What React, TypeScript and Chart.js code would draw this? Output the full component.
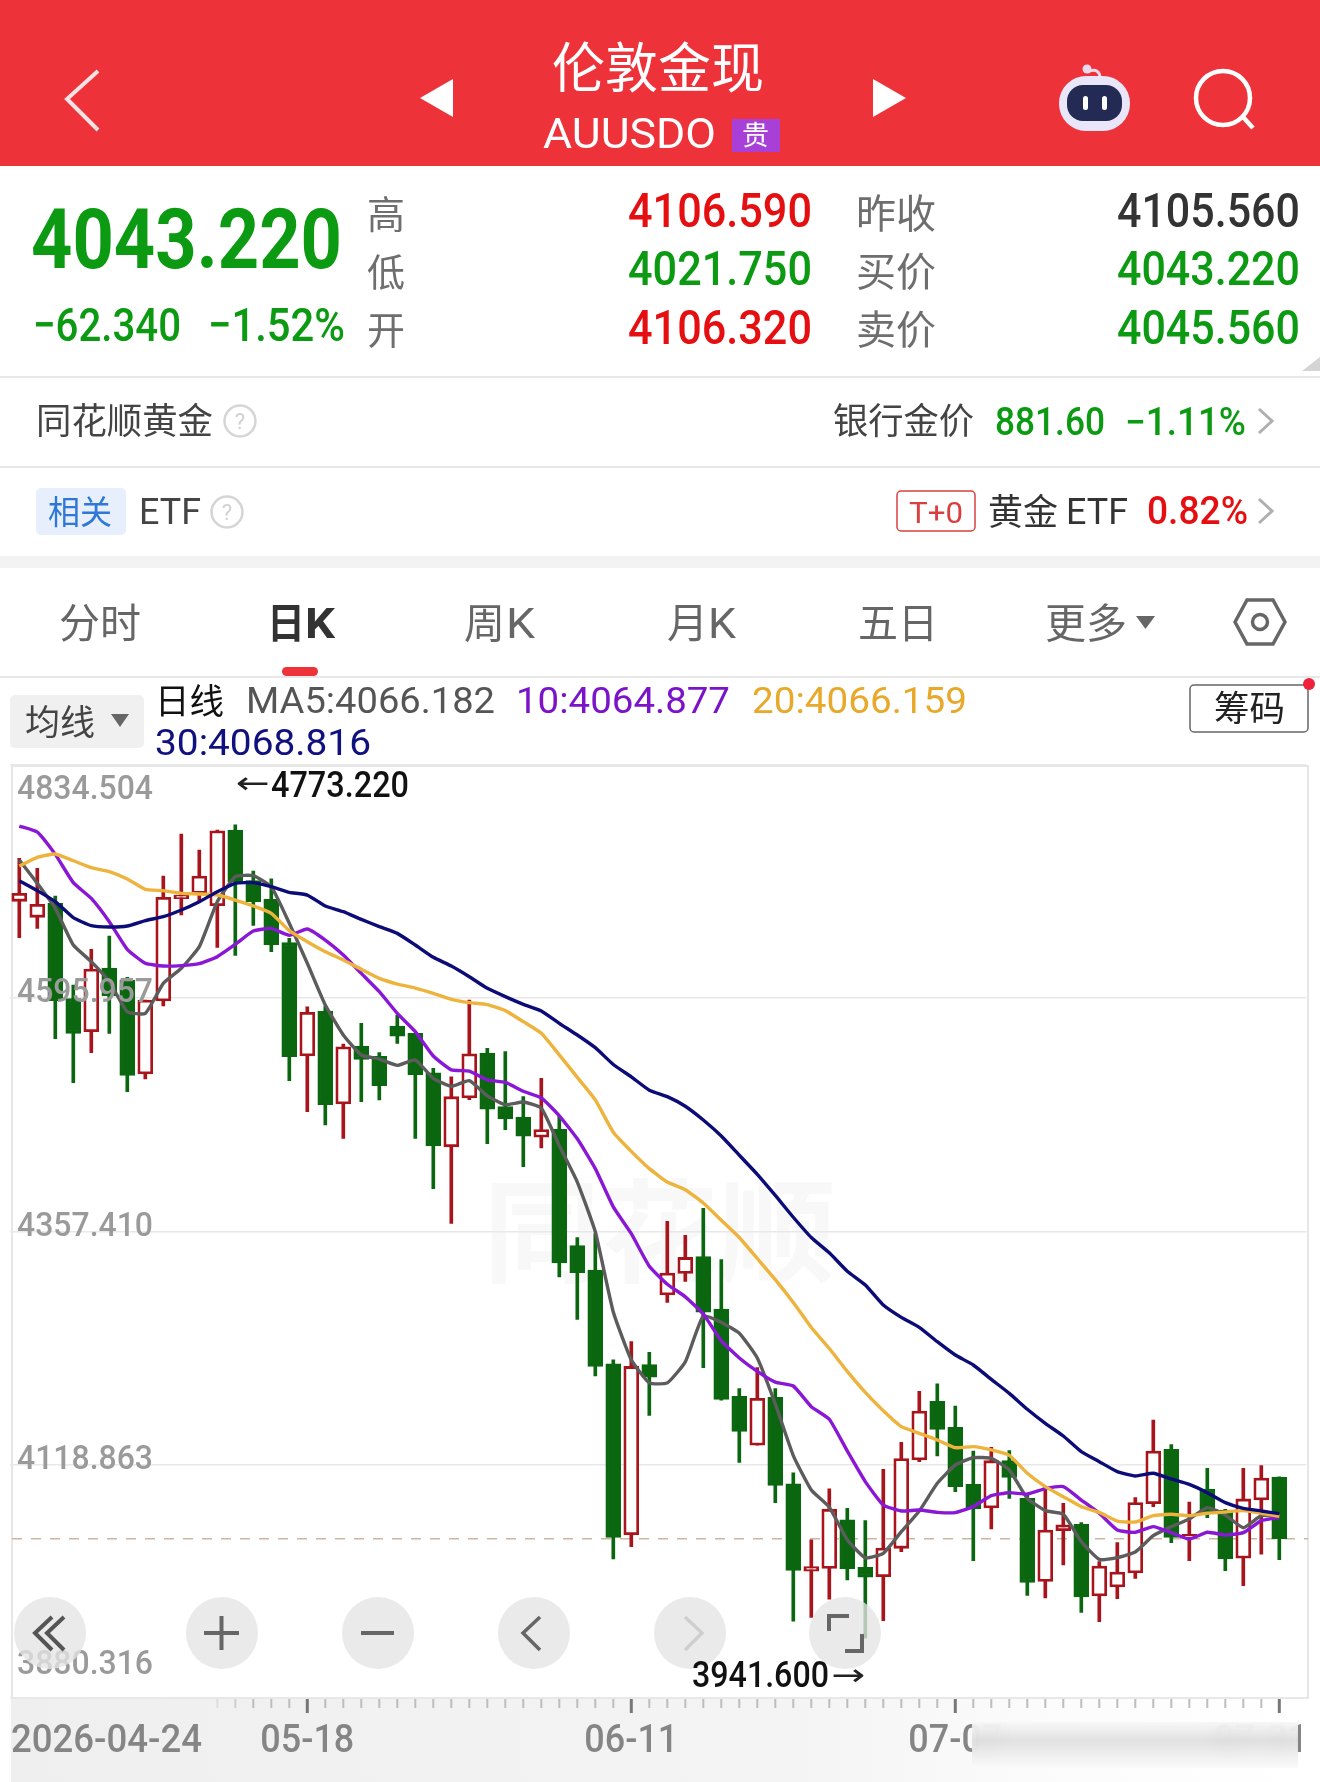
import { useEffect, useRef } from "react";
import { Chart, registerables } from "chart.js";

Chart.register(...registerables);

// trading days, weekdays only, 2026-04-24 .. 2026-07-31
const dates = [
  "2026-04-24", "04-27", "04-28", "04-29", "04-30", "05-01", "05-04", "05-05", "05-06", "05-07", "05-08",
  "05-11", "05-12", "05-13", "05-14", "05-15", "05-18", "05-19", "05-20", "05-21", "05-22",
  "05-25", "05-26", "05-27", "05-28", "05-29", "06-01", "06-02", "06-03", "06-04", "06-05",
  "06-08", "06-09", "06-10", "06-11", "06-12", "06-15", "06-16", "06-17", "06-18", "06-19",
  "06-22", "06-23", "06-24", "06-25", "06-26", "06-29", "06-30", "07-01", "07-02", "07-03",
  "07-06", "07-07", "07-08", "07-09", "07-10", "07-13", "07-14", "07-15", "07-16", "07-17",
  "07-20", "07-21", "07-22", "07-23", "07-24", "07-27", "07-28", "07-29", "07-30", "07-31",
];
const labeledDates = ["2026-04-24", "05-18", "06-11", "07-07", "07-31"];

const opens = [
  4695.07, 4678.7, 4693.0, 4595.5, 4561.8, 4626.9, 4614.6, 4518.5, 4593.1, 4697.8, 4703.2, 4690.6,
  4768.0, 4716.2, 4697.1, 4652.8, 4536.9, 4582.9, 4487.8, 4547.1, 4536.6, 4567.6, 4560.1, 4519.8,
  4444.0, 4494.1, 4539.9, 4485.1, 4474.5, 4453.8, 4462.0, 4343.1, 4318.0, 4222.1, 4047.2, 4221.3,
  4292.6, 4314.5, 4331.7, 4278.1, 4188.9, 4138.8, 4187.7, 4099.3, 4010.0, 4012.8, 4062.5, 4014.0,
  4004.4, 4033.4, 4123.7, 4183.7, 4157.1, 4098.8, 4074.6, 4123.0, 4084.5, 3999.6, 4051.5, 4057.9,
  3984.6, 3993.9, 4008.2, 4079.1, 4134.6, 4043.6, 4094.1, 4072.6, 4023.2, 4082.8, 4106.32,
];
const closes = [
  4703.25, 4692.0, 4593.5, 4560.1, 4625.9, 4598.3, 4517.1, 4594.2, 4699.2, 4701.5, 4721.0, 4767.3,
  4715.2, 4694.7, 4650.4, 4536.2, 4581.5, 4487.1, 4546.4, 4533.5, 4506.6, 4557.3, 4517.8, 4444.9,
  4495.3, 4539.1, 4482.4, 4472.6, 4455.0, 4461.6, 4325.4, 4315.3, 4219.4, 4044.5, 4219.4, 4208.4,
  4314.9, 4330.9, 4274.9, 4185.7, 4152.9, 4186.9, 4097.7, 4010.8, 4014.7, 4073.4, 4012.4, 4003.8,
  4033.7, 4125.1, 4173.8, 4155.1, 4096.5, 4074.0, 4123.0, 4106.0, 3998.6, 4052.1, 4057.3, 3983.6,
  4015.3, 4009.2, 4080.1, 4132.9, 4044.6, 4047.7, 4069.2, 4022.5, 4083.9, 4105.3, 4043.22,
];
const highs = [
  4739.05, 4728.8, 4700.5, 4609.5, 4646.0, 4659.6, 4617.4, 4594.2, 4721.0, 4763.9, 4747.6, 4768.0,
  4773.22, 4726.1, 4718.2, 4657.2, 4587.3, 4588.0, 4549.2, 4570.3, 4540.3, 4578.8, 4560.1, 4524.3,
  4515.6, 4594.2, 4544.8, 4541.3, 4495.3, 4514.1, 4475.7, 4351.3, 4355.2, 4226.1, 4244.8, 4233.9,
  4367.7, 4353.6, 4381.0, 4328.6, 4196.7, 4218.2, 4196.7, 4110.6, 4042.1, 4094.2, 4074.2, 4061.7,
  4114.2, 4141.8, 4194.0, 4201.5, 4178.9, 4132.9, 4136.7, 4133.3, 4089.6, 4096.5, 4079.4, 4059.6,
  4019.8, 4039.2, 4085.2, 4164.6, 4139.4, 4080.8, 4115.2, 4073.3, 4115.2, 4117.9, 4106.59,
];
const lows = [
  4657.9, 4667.5, 4554.6, 4509.6, 4540.3, 4560.1, 4500.4, 4513.4, 4588.0, 4681.1, 4693.7, 4648.0,
  4639.8, 4670.5, 4643.6, 4511.7, 4480.0, 4466.3, 4452.7, 4490.2, 4491.9, 4549.8, 4452.7, 4401.2,
  4365.8, 4492.2, 4447.2, 4461.6, 4423.7, 4442.9, 4311.0, 4267.5, 4209.6, 4022.5, 4035.1, 4169.3,
  4284.8, 4306.3, 4218.2, 4185.0, 4121.2, 4138.8, 4080.1, 3958.8, 3962.7, 3981.4, 4001.0, 3941.6,
  3959.4, 4030.0, 4122.0, 4127.8, 4091.3, 4020.8, 4053.2, 4084.5, 3985.3, 3982.6, 4016.3, 3967.9,
  3958.4, 3981.9, 4002.7, 4076.0, 4039.2, 4020.8, 4064.8, 4010.6, 3995.2, 4027.3, 4021.75,
];

const ma5 = [
  4737.3, 4713.5, 4687.9, 4650.4, 4633.4, 4612.9, 4582.2, 4580.5, 4611.2, 4626.6, 4648.7, 4694.7,
  4720.3, 4721.3, 4710.0, 4672.6, 4631.7, 4589.0, 4558.4, 4537.9, 4533.8, 4527.3, 4532.8, 4514.0,
  4505.9, 4511.7, 4496.1, 4487.1, 4489.8, 4483.6, 4445.2, 4408.0, 4357.1, 4275.0, 4226.1, 4202.6,
  4202.6, 4224.1, 4271.1, 4264.4, 4253.4, 4228.0, 4181.0, 4128.2, 4093.0, 4075.4, 4042.1, 4023.7,
  4028.3, 4050.4, 4071.6, 4099.9, 4118.6, 4126.1, 4125.4, 4113.5, 4084.5, 4071.9, 4068.2, 4040.2,
  4022.1, 4023.9, 4029.7, 4046.3, 4055.6, 4063.4, 4075.0, 4067.5, 4054.5, 4066.8, 4066.18,
];
const ma10 = [
  4772.1, 4766.0, 4743.1, 4714.2, 4698.1, 4674.3, 4646.0, 4631.7, 4628.9, 4629.3, 4631.3, 4638.5,
  4651.1, 4664.7, 4667.4, 4660.3, 4666.8, 4655.5, 4640.2, 4621.4, 4602.7, 4580.5, 4561.8, 4536.9,
  4522.7, 4521.5, 4512.5, 4509.8, 4500.8, 4494.1, 4475.7, 4452.2, 4421.7, 4382.6, 4355.2, 4321.9,
  4303.5, 4290.6, 4273.0, 4245.6, 4228.0, 4214.3, 4203.3, 4199.4, 4178.3, 4165.4, 4132.9, 4101.6,
  4077.7, 4071.6, 4072.6, 4070.2, 4069.9, 4076.0, 4087.3, 4090.3, 4088.9, 4094.4, 4096.5, 4082.8,
  4069.2, 4052.1, 4049.8, 4055.6, 4049.4, 4042.9, 4049.8, 4047.0, 4049.4, 4061.7, 4064.88,
];
const ma20 = [
  4731.2, 4740.1, 4743.5, 4736.6, 4729.5, 4725.4, 4717.9, 4707.3, 4706.0, 4703.2, 4702.6, 4701.5,
  4696.4, 4690.3, 4682.8, 4665.1, 4653.8, 4643.6, 4635.1, 4625.5, 4616.3, 4610.5, 4606.4, 4601.0,
  4594.9, 4591.5, 4589.4, 4583.3, 4572.0, 4560.1, 4538.0, 4515.0, 4492.0, 4458.9, 4439.3, 4421.7,
  4408.0, 4400.2, 4386.5, 4368.9, 4351.3, 4329.8, 4308.2, 4284.8, 4259.3, 4237.8, 4214.3, 4192.8,
  4174.0, 4157.8, 4151.0, 4144.2, 4136.3, 4137.4, 4134.0, 4128.5, 4110.1, 4096.5, 4086.2, 4076.0,
  4070.2, 4061.3, 4060.3, 4066.8, 4068.2, 4066.8, 4069.2, 4070.6, 4071.9, 4069.2, 4066.16,
];
const ma30 = [
  4716.2, 4706.0, 4694.7, 4678.4, 4670.2, 4668.8, 4669.8, 4675.3, 4679.4, 4686.2, 4694.7, 4704.9,
  4713.5, 4714.2, 4710.1, 4704.3, 4701.5, 4690.3, 4684.5, 4676.6, 4669.2, 4662.3, 4650.4, 4637.8,
  4628.9, 4618.0, 4606.1, 4597.6, 4589.7, 4582.9, 4570.3, 4558.4, 4545.4, 4528.2, 4515.6, 4501.9,
  4495.3, 4485.5, 4471.4, 4455.0, 4435.4, 4415.9, 4394.3, 4372.0, 4351.3, 4335.6, 4316.8, 4302.7,
  4282.2, 4269.6, 4259.4, 4244.7, 4231.1, 4220.9, 4206.2, 4191.9, 4175.6, 4161.2, 4148.3, 4132.3,
  4122.0, 4111.8, 4107.4, 4110.1, 4104.3, 4098.8, 4090.3, 4080.1, 4074.3, 4071.6, 4068.82,
];

const yTicks = [4834.504, 4595.957, 4357.41, 4118.863, 3880.316];
const lastPrice = 4043.22;

const RED = "#A8141C";
const GREEN = "#0B670F";
const CJK = '"Noto Sans CJK SC", sans-serif';
const NUM = 'Roboto, "Noto Sans", sans-serif';

// dashed last price line, y labels and the date ruler: the app draws them itself over the plot
const klineChrome = {
  id: "klineChrome",
  beforeDatasetsDraw(chart: any) {
    const { ctx, scales } = chart;
    const y = scales.y.getPixelForValue(lastPrice);
    ctx.save();
    ctx.strokeStyle = "#CDB5A0";
    ctx.lineWidth = 1.6;
    ctx.setLineDash([10, 9]);
    ctx.beginPath();
    ctx.moveTo(12, y);
    ctx.lineTo(1308, y);
    ctx.stroke();
    ctx.restore();
  },
  afterDraw(chart: any) {
    const { ctx, scales } = chart;
    ctx.save();
    ctx.fillStyle = "#9A9A9A";
    ctx.font = `500 34px ${NUM}`;
    ctx.textAlign = "left";
    ctx.textBaseline = "alphabetic";
    scales.y.ticks.forEach((t: any, i: number) => {
      const py = scales.y.getPixelForValue(t.value);
      const off = i === 0 ? 34 : i === scales.y.ticks.length - 1 ? -24 : 4;
      ctx.fillText(t.label, 17, py + off, 136);
    });

    const bottom = chart.chartArea.bottom;
    dates.forEach((d, i) => {
      if (i < 11) return;
      const px = scales.x.getPixelForValue(i);
      const major = labeledDates.includes(d);
      ctx.globalAlpha = Math.min(1, (i - 10) / 3);
      ctx.strokeStyle = major ? "#777" : "#BDBDBD";
      ctx.lineWidth = major ? 3 : 2;
      ctx.beginPath();
      ctx.moveTo(px, bottom + 1);
      ctx.lineTo(px, bottom + (major ? 15 : 10));
      ctx.stroke();
    });
    ctx.globalAlpha = 1;
    ctx.fillStyle = "#858585";
    ctx.font = `500 38px ${NUM}`;
    const last = dates.length - 1;
    dates.forEach((d, i) => {
      if (!labeledDates.includes(d)) return;
      const wide = i === 0 ? 191 : 94;
      ctx.textAlign = i === 0 ? "left" : i === last ? "right" : "center";
      const px = i === 0 ? 11 : i === last ? 1308 : scales.x.getPixelForValue(i);
      ctx.fillText(d, px, bottom + 54, wide);
    });
    ctx.restore();
  },
};

function KlineChart() {
  const canva = useRef<HTMLCanvasElement | null>(null);

  useEffect(() => {
    if (!canva.current) return;
    const up = closes.map((c, i) => c >= opens[i]);
    const line = (label: string, data: number[], color: string, order: number) => ({
      type: "line" as const,
      label,
      data,
      borderColor: color,
      borderWidth: 3.4,
      pointRadius: 0,
      tension: 0.15,
      order,
    });

    const chartInstance = new Chart(canva.current, {
      type: "bar",
      plugins: [klineChrome],
      data: {
        labels: [...dates, ""],
        datasets: [
          line("MA5", ma5, "#5C5C5C", 4),
          line("MA10", ma10, "#8A16D6", 3),
          line("MA20", ma20, "#EDB33C", 2),
          line("MA30", ma30, "#0C0C78", 1),
          {
            label: "wick",
            data: lows.map((l, i) => [l, highs[i]]),
            backgroundColor: up.map((u) => (u ? RED : GREEN)),
            barThickness: 3,
            grouped: false,
            order: 10,
          },
          {
            label: "body",
            data: opens.map((o, i) => [o, closes[i]]),
            backgroundColor: up.map((u) => (u ? "#FFFFFF" : GREEN)),
            borderColor: up.map((u) => (u ? RED : GREEN)),
            borderWidth: 2.8,
            borderSkipped: false,
            barThickness: 15,
            grouped: false,
            order: 9,
          },
        ],
      } as any,
      options: {
        responsive: false,
        animation: false,
        events: [],
        layout: { padding: { left: 10.3, right: 13.7, top: 5, bottom: 84 } },
        plugins: { legend: { display: false }, tooltip: { enabled: false } },
        scales: {
          x: {
            grid: { display: false, drawTicks: false },
            border: { display: false },
            ticks: { display: false },
          },
          y: {
            min: yTicks[yTicks.length - 1],
            max: yTicks[0],
            afterBuildTicks: (scale: any) => {
              scale.ticks = yTicks.map((value) => ({ value }));
            },
            grid: { color: "#E8E8E8", lineWidth: 1.5, drawTicks: false },
            border: { display: false },
            ticks: { display: false, callback: (v: any) => Number(v).toFixed(3) },
          },
        },
      },
    });

    return () => {
      chartInstance.destroy();
    };
  }, []);

  return <canvas ref={canva} width={1320} height={1022} style={{ position: "absolute", left: 0, top: 760 }} />;
}

function T({ x, y, w, size, fill, weight, font, anchor, children }: any) {
  return (
    <text
      x={x}
      y={y}
      fontSize={size}
      fill={fill}
      fontWeight={weight || 400}
      fontFamily={font || CJK}
      textAnchor={anchor || "start"}
      textLength={w}
      lengthAdjust={w ? "spacingAndGlyphs" : undefined}
    >
      {children}
    </text>
  );
}

const UP_RED = "#E50F12";
const DOWN_GREEN = "#0C9A12";
const LABEL_GRAY = "#6E6E6E";
const LINE_GRAY = "#E8E8E8";

function Header() {
  return (
    <g>
      <rect x={0} y={0} width={1320} height={166} fill="#EE323A" />
      <polyline points="98,71 67,99 98,130" fill="none" stroke="#FBE3E4" strokeWidth={4} />
      <polygon points="420,98 453,79 453,117" fill="#FFF" />
      <polygon points="873,79 906,98 873,117" fill="#FFF" />
      <T x={552} y={88} w={212} size={54} fill="#FFF">伦敦金现</T>
      <T x={543} y={148} w={173} size={42} fill="#FFF" font={NUM}>AUUSDO</T>
      <rect x={732} y={119} width={48} height={33} fill="#A83FD6" />
      <T x={742} y={145} size={27} fill="#FFF">贵</T>
      <path d="M1088 72C1096 68 1100 72 1100 78" fill="none" stroke="#EBD9EE" strokeWidth={3} />
      <circle cx={1087} cy={69} r={4.5} fill="#EBD9EE" />
      <rect x={1059} y={76} width={71} height={55} rx={27} fill="#E8E6F8" />
      <rect x={1067} y={85} width={55} height={36} rx={16} fill="#232B54" />
      <rect x={1083} y={96} width={5} height={14} rx={2.5} fill="#FFF" />
      <rect x={1102} y={96} width={5} height={14} rx={2.5} fill="#FFF" />
      <circle cx={1223} cy={98} r={27} fill="none" stroke="#FFF" strokeWidth={4.5} />
      <line x1={1243} y1={117} x2={1253} y2={128} stroke="#FFF" strokeWidth={4.5} />
    </g>
  );
}

function Quote() {
  const labels = [
    { t: "高", y: 228 },
    { t: "低", y: 286 },
    { t: "开", y: 344 },
  ];
  const rowYs = [227, 285, 344];
  return (
    <g>
      <T x={31} y={268} w={311} size={84} fill={DOWN_GREEN} weight={700} font={NUM}>4043.220</T>
      <T x={33} y={341} w={148} size={47} fill={DOWN_GREEN} weight={500} font={NUM}>−62.340</T>
      <T x={208} y={341} w={137} size={47} fill={DOWN_GREEN} weight={500} font={NUM}>−1.52%</T>
      {labels.map((l) => (
        <T key={l.t} x={367} y={l.y} size={38} fill={LABEL_GRAY}>{l.t}</T>
      ))}
      <T x={628} y={rowYs[0]} w={184} size={48} fill={UP_RED} weight={500} font={NUM}>4106.590</T>
      <T x={628} y={rowYs[1]} w={184} size={48} fill={DOWN_GREEN} weight={500} font={NUM}>4021.750</T>
      <T x={628} y={rowYs[2]} w={184} size={48} fill={UP_RED} weight={500} font={NUM}>4106.320</T>
      <T x={856} y={228} size={40} fill={LABEL_GRAY}>昨收</T>
      <T x={856} y={286} size={40} fill={LABEL_GRAY}>买价</T>
      <T x={856} y={344} size={40} fill={LABEL_GRAY}>卖价</T>
      <T x={1117} y={rowYs[0]} w={183} size={48} fill="#333" weight={500} font={NUM}>4105.560</T>
      <T x={1117} y={rowYs[1]} w={183} size={48} fill={DOWN_GREEN} weight={500} font={NUM}>4043.220</T>
      <T x={1117} y={rowYs[2]} w={183} size={48} fill={DOWN_GREEN} weight={500} font={NUM}>4045.560</T>
      <polygon points="1320,357 1320,371 1302,371" fill="#D4D4D4" />
      <rect x={0} y={376} width={1320} height={2} fill={LINE_GRAY} />
    </g>
  );
}

function Help({ cx, cy }: any) {
  return (
    <g>
      <circle cx={cx} cy={cy} r={15.5} fill="none" stroke="#D5D5D5" strokeWidth={2.5} />
      <text x={cx} y={cy + 8} fontSize={22} fill="#D0D0D0" textAnchor="middle" fontFamily={NUM}>?</text>
    </g>
  );
}

function Rows() {
  return (
    <g>
      <T x={36} y={434} w={177} size={36} fill="#444">同花顺黄金</T>
      <Help cx={240} cy={421} />
      <T x={833} y={434} w={141} size={36} fill="#444">银行金价</T>
      <T x={995} y={435} w={110} size={38} fill={DOWN_GREEN} weight={500} font={NUM}>881.60</T>
      <T x={1125} y={435} w={121} size={38} fill={DOWN_GREEN} weight={500} font={NUM}>−1.11%</T>
      <polyline points="1259,409 1272,421 1259,433" fill="none" stroke="#AFAFAF" strokeWidth={3} />
      <rect x={0} y={466} width={1320} height={2} fill={LINE_GRAY} />

      <rect x={36} y={488} width={90} height={47} rx={5} fill="#E6EFFB" />
      <T x={48} y={524} w={64} size={33} fill="#2F78D8">相关</T>
      <T x={139} y={524} w={62} size={36} fill="#444" font={NUM}>ETF</T>
      <Help cx={227} cy={512} />
      <rect x={897} y={491} width={78} height={40} rx={4} fill="none" stroke="#D8403F" strokeWidth={1.5} />
      <T x={909} y={523} w={54} size={30} fill="#D8403F" font={NUM}>T+0</T>
      <T x={988} y={525} w={70} size={36} fill="#333">黄金</T>
      <T x={1066} y={524} w={62} size={36} fill="#333" font={NUM}>ETF</T>
      <T x={1147} y={524} w={101} size={38} fill={UP_RED} weight={500} font={NUM}>0.82%</T>
      <polyline points="1259,499 1272,511 1259,523" fill="none" stroke="#AFAFAF" strokeWidth={3} />
      <rect x={0} y={556} width={1320} height={12} fill="#F3F3F3" />
    </g>
  );
}

function Tabs() {
  return (
    <g>
      <T x={59} y={638} w={82} size={41} fill="#666">分时</T>
      <T x={267} y={638} w={38} size={41} fill="#333" weight={700}>日</T>
      <T x={305} y={638} w={30} size={42} fill="#333" weight={700} font={NUM}>K</T>
      <T x={464} y={638} w={41} size={41} fill="#666">周</T>
      <T x={506} y={638} w={29} size={42} fill="#666" font={NUM}>K</T>
      <T x={667} y={638} w={41} size={41} fill="#666">月</T>
      <T x={708} y={638} w={28} size={42} fill="#666" font={NUM}>K</T>
      <T x={858} y={638} w={80} size={41} fill="#666">五日</T>
      <T x={1045} y={638} w={82} size={41} fill="#666">更多</T>
      <polygon points="1136,616 1155,616 1145.5,629" fill="#666" />
      <polygon points="1235,622 1247,600 1273,600 1285,622 1273,644 1247,644" fill="none" stroke="#666" strokeWidth={3.5} />
      <circle cx={1260} cy={622} r={7.5} fill="none" stroke="#666" strokeWidth={3.5} />
      <rect x={282} y={667} width={36} height={9} rx={4.5} fill="#EE323A" />
      <rect x={0} y={676} width={1320} height={2} fill={LINE_GRAY} />

      <rect x={10} y={695} width={134} height={53} rx={5} fill="#F0F0F0" />
      <T x={25} y={735} w={70} size={35} fill="#444">均线</T>
      <polygon points="111,714 129,714 120,727" fill="#666" />
      <T x={155} y={714} w={69} size={35} fill="#111">日线</T>
      <T x={246} y={713} w={249} size={36} fill="#555" font={NUM}>MA5:4066.182</T>
      <T x={516} y={713} w={214} size={36} fill="#7B14C8" font={NUM}>10:4064.877</T>
      <T x={752} y={713} w={215} size={36} fill="#E8A92B" font={NUM}>20:4066.159</T>
      <T x={155} y={755} w={216} size={36} fill="#10107E" font={NUM}>30:4068.816</T>
      <rect x={1190} y={685} width={118} height={47} rx={4} fill="#FFF" stroke="#666" strokeWidth={1.5} />
      <T x={1214} y={721} w={71} size={35} fill="#222">筹码</T>
      <circle cx={1309} cy={684} r={6} fill="#F0213C" />
    </g>
  );
}

function ChartOverlay() {
  const buttons = [50, 222, 378, 534, 690, 845];
  return (
    <g>
      {buttons.map((cx) => (
        <circle key={cx} cx={cx} cy={1633} r={36} fill="rgba(228,228,228,0.78)" />
      ))}
      <polyline points="52,1617 35,1633 52,1650" fill="none" stroke="#555" strokeWidth={4} />
      <polyline points="64,1617 47,1633 64,1650" fill="none" stroke="#555" strokeWidth={4} />
      <path d="M204 1633H239M221.5 1616V1650" stroke="#666" strokeWidth={4} />
      <path d="M361 1633H394" stroke="#666" strokeWidth={4} />
      <polyline points="540,1617 523,1633 540,1650" fill="none" stroke="#666" strokeWidth={3.5} />
      <polyline points="685,1617 702,1633 685,1650" fill="none" stroke="#CFCFCF" strokeWidth={3.5} />
      <polyline points="829,1631 829,1616 849,1616" fill="none" stroke="#666" strokeWidth={4} />
      <polyline points="862,1634 862,1651 845,1651" fill="none" stroke="#666" strokeWidth={4} />

      <T x={236} y={793} w={34} size={30} fill="#222" font="DejaVu Sans">←</T>
      <T x={271} y={797} w={138} size={36} fill="#111" weight={500} font={NUM}>4773.220</T>
      <T x={692} y={1687} w={137} size={36} fill="#111" weight={500} font={NUM}>3941.600</T>
      <T x={831} y={1685} w={34} size={30} fill="#222" font="DejaVu Sans">→</T>
    </g>
  );
}

export default function App() {
  useEffect(() => {
    document.body.style.margin = "0";
  }, []);

  return (
    <div style={{ position: "relative", width: 1320, height: 1782, overflow: "hidden", background: "#FFF" }}>
      <div
        style={{
          position: "absolute",
          left: 11,
          top: 1698,
          width: 1309,
          height: 84,
          background: "linear-gradient(90deg, #EFEFEF 0%, #F4F4F4 60%, #FBFBFB 78%, #FFFFFF 100%)",
        }}
      />
      <svg width={1320} height={1782} style={{ position: "absolute", left: 0, top: 0 }}>
        <text x={483} y={1274} fontSize={112} fontWeight={700} fontFamily={CJK} fill="#F8F8F8" textLength={353} lengthAdjust="spacingAndGlyphs">
          同花顺
        </text>
        <rect x={12} y={766} width={1296} height={932} fill="none" stroke="#E6E6E6" strokeWidth={2} />
      </svg>
      <KlineChart />
      <svg width={1320} height={1782} style={{ position: "absolute", left: 0, top: 0 }}>
        <Header />
        <Quote />
        <Rows />
        <Tabs />
        <ChartOverlay />
      </svg>
      {/* the date row is smeared out on the right in the screenshot */}
      <div
        style={{
          position: "absolute",
          left: 972,
          top: 1722,
          width: 326,
          height: 46,
          backdropFilter: "blur(9px)",
          background: "linear-gradient(180deg, rgba(248,248,248,0.92), rgba(222,222,222,0.9) 40%, rgba(250,250,250,0.95))",
        }}
      />
    </div>
  );
}
